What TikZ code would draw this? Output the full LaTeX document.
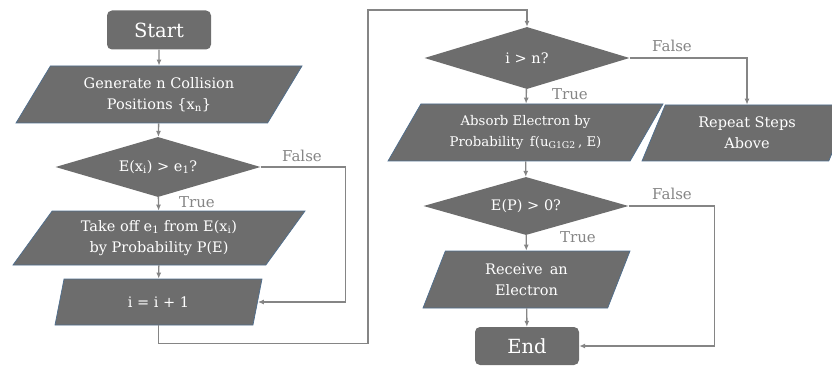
\documentclass[tikz,border=0pt]{standalone}
\usepackage{fontspec}
\setmainfont{DejaVu Serif}
\usetikzlibrary{shapes.geometric, arrows.meta}

\definecolor{boxgray}{HTML}{6D6D6D}
\definecolor{boxedge}{HTML}{4E6E8E}
\definecolor{linegray}{HTML}{858585}

\begin{document}
\begin{tikzpicture}
	[x = 1pt, y = -1pt,
	terminal/.style={rectangle, rounded corners=5pt, fill=boxgray, text=white, font=\fontsize{19.5}{22}\selectfont, minimum width=104pt, minimum height=39pt, inner sep=0pt},
	io/.style={trapezium, trapezium stretches body, fill=boxgray, draw=boxedge, line width=0.7pt, text=white, align=center, font=\fontsize{14.5}{21}\selectfont, inner sep=0pt},
	decision/.style={diamond, aspect=3.4, fill=boxgray, text=white, font=\fontsize{14.5}{18}\selectfont, inner sep=0pt, minimum width=205pt, minimum height=60pt},
	flow/.style={-{Latex[length=6pt, width=5pt]}, linegray, line width=1.4pt},
	answer/.style={text=linegray, font=\fontsize{15}{18}\selectfont}]
	
	\useasboundingbox (0, 0) rectangle (832, 366);
	
	% Left column
	\node[terminal] (start) at (159, 30) {Start};
	\node[io, trapezium left angle=45, trapezium right angle=135, minimum width=286pt, minimum height=57pt] (gen) at (159, 94.5) {Generate n Collision\\Positions \{x\textsubscript{n}\}};
	\node[decision] (cond1) at (158, 167) {E(x\textsubscript{i}) > e\textsubscript{1}?};
	\node[io, trapezium left angle=42, trapezium right angle=138, minimum width=292pt, minimum height=54pt] (takeoff) at (159, 238) {Take off e\textsubscript{1} from E(x\textsubscript{i})\\by Probability P(E)};
	\node[io, trapezium left angle=50, trapezium right angle=130, minimum width=207pt, minimum height=46pt] (incr) at (158.5, 302) {i = i + 1};
	
	% Right column
	\node[decision, minimum height=62pt] (cond2) at (527, 58) {i > n?};
	\node[io, trapezium left angle=46, trapezium right angle=134, minimum width=275pt, minimum height=57pt, font=\fontsize{13.3}{21}\selectfont] (absorb) at (525.5, 132.5) {Absorb Electron by\\Probability\, f(u\textsubscript{G1G2}\,, E)};
	\node[io, trapezium left angle=54, trapezium right angle=126, minimum width=210pt, minimum height=56pt] (repeat) at (747, 133) {Repeat Steps\\Above};
	\node[decision, minimum height=58pt] (cond3) at (526, 206) {E(P) > 0?};
	\node[io, trapezium left angle=55, trapezium right angle=125, minimum width=207pt, minimum height=57pt] (receive) at (526.5, 279.5) {Receive\, an\\Electron};
	\node[terminal, minimum height=38pt] (end) at (527, 346) {End};
	
	\coordinate (jump) at (368, 10);
	
	% Draw connectors
	\draw[flow] (start) -- (gen);
	\draw[flow] (gen) -- (cond1);
	\draw[flow] (cond1) -- (takeoff);
	\draw[flow] (cond1.east) -- ++(85, 0) |- (incr.east);
	\draw[flow] (takeoff) -- (incr);
	\draw[flow] (incr.south) -- ++(0, 18) -| (jump) -| (cond2.north);
	\draw[flow] (cond2) -- (absorb);
	\draw[flow] (cond2.east) -| (repeat.north);
	\draw[flow] (absorb) -- (cond3);
	\draw[flow] (cond3) -- (receive);
	\draw[flow] (cond3.east) -- ++(86, 0) |- (end.east);
	\draw[flow] (receive) -- (end);
	
	% Draw labels
	\node[answer] (true1) at (197, 202) {True};
	\node[answer] (false1) at (302, 156) {False};
	\node[answer] (true2) at (570, 94) {True};
	\node[answer] (false2) at (672, 46) {False};
	\node[answer] (true3) at (578, 237) {True};
	\node[answer] (false3) at (672, 194) {False};
	
\end{tikzpicture}
\end{document}
